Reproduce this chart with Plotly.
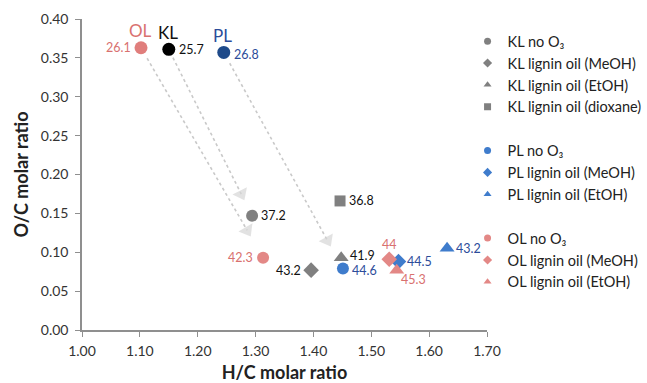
import plotly.graph_objects as go

# H/C and O/C molar ratios for each lignin sample
FONT = "Lato"

# Starting lignins (before ozonolysis)
start_names = ["OL", "KL", "PL"]
start_hc = [1.102, 1.150, 1.245]
start_oc = [0.363, 0.361, 0.357]
start_vals = ["26.1", "25.7", "26.8"]
start_colors = ["#e07e7c", "#000000", "#1f4a8a"]
start_text_colors = ["#d9716f", "#111111", "#2c4c9a"]
start_label_side = ["left", "right", "right"]

# Series after treatment
series_names = [
    "KL no O₃", "KL lignin oil (MeOH)", "KL lignin oil (EtOH)", "KL lignin oil (dioxane)",
    "PL no O₃", "PL lignin oil (MeOH)", "PL lignin oil (EtOH)",
    "OL no O₃", "OL lignin oil (MeOH)", "OL lignin oil (EtOH)",
]
series_group = ["KL", "KL", "KL", "KL", "PL", "PL", "PL", "OL", "OL", "OL"]
series_hc = [1.294, 1.396, 1.448, 1.446, 1.451, 1.547, 1.631, 1.313, 1.531, 1.544]
series_oc = [0.147, 0.077, 0.093, 0.166, 0.079, 0.088, 0.105, 0.093, 0.091, 0.077]
series_vals = ["37.2", "43.2", "41.9", "36.8", "44.6", "44.5", "43.2", "42.3", "44", "45.3"]
series_symbols = ["circle", "diamond", "triangle-up", "square",
                  "circle", "diamond", "triangle-up",
                  "circle", "diamond", "triangle-up"]
series_label_pos = ["right", "left", "right-up", "right",
                    "right-down", "right", "right",
                    "left", "above", "below"]

group_color = {"KL": "#808080", "PL": "#3f7ccc", "OL": "#e38886"}
group_text_color = {"KL": "#111111", "PL": "#2c4c9a", "OL": "#d9716f"}
symbol_size = {"circle": 12, "diamond": 12, "triangle-up": 13, "square": 11}

# Arrows from each starting lignin to its "no O3" product
arrow_pairs = [("OL", "OL no O₃"), ("KL", "KL no O₃"), ("PL", "PL no O₃")]
arrow_start_frac = 0.05
arrow_end_frac = 0.87

fig = go.Figure()

# Dashed arrows
for src, dst in arrow_pairs:
    i = start_names.index(src)
    j = series_names.index(dst)
    x0, y0 = start_hc[i], start_oc[i]
    x1, y1 = series_hc[j], series_oc[j]
    xs = [x0 + arrow_start_frac * (x1 - x0), x0 + arrow_end_frac * (x1 - x0)]
    ys = [y0 + arrow_start_frac * (y1 - y0), y0 + arrow_end_frac * (y1 - y0)]
    fig.add_trace(go.Scatter(
        x=xs, y=ys, mode="lines+markers", showlegend=False, hoverinfo="skip",
        line=dict(color="#c9c9c9", width=1.6, dash="dot"),
        marker=dict(symbol=["circle", "triangle-up"], size=[0, 14],
                    angleref="previous", color="#d6d6d6", line=dict(width=0)),
    ))

# Starting lignins
for i, name in enumerate(start_names):
    fig.add_trace(go.Scatter(
        x=[start_hc[i]], y=[start_oc[i]], mode="markers", showlegend=False,
        marker=dict(symbol="circle", size=13, color=start_colors[i]),
        name=name,
    ))
    fig.add_annotation(x=start_hc[i], y=start_oc[i], text=name, showarrow=False,
                       yshift=17, xshift=-1,
                       font=dict(family=FONT, size=17, color=start_text_colors[i]))
    side = start_label_side[i]
    fig.add_annotation(x=start_hc[i], y=start_oc[i], text=start_vals[i], showarrow=False,
                       xanchor="right" if side == "left" else "left",
                       xshift=-8 if side == "left" else 8, yshift=-2 if i == 2 else 0,
                       font=dict(family=FONT, size=12.5, color=start_text_colors[i]))

# Treated samples (plot marks) and legend entries
for k, name in enumerate(series_names):
    g = series_group[k]
    sym = series_symbols[k]
    fig.add_trace(go.Scatter(
        x=[series_hc[k]], y=[series_oc[k]], mode="markers", showlegend=False,
        marker=dict(symbol=sym, size=symbol_size[sym], color=group_color[g]),
        name=name,
    ))
    fig.add_trace(go.Scatter(
        x=[None], y=[None], mode="markers", name=name, legendgroup=g,
        marker=dict(symbol=sym, size=7, color=group_color[g]),
    ))
    pos = series_label_pos[k]
    tc = group_text_color[g]
    if pos == "right":
        kw = dict(xanchor="left", xshift=7)
    elif pos == "right-up":
        kw = dict(xanchor="left", xshift=7, yshift=2)
    elif pos == "right-down":
        kw = dict(xanchor="left", xshift=7, yshift=-2)
    elif pos == "left":
        kw = dict(xanchor="right", xshift=-8)
    elif pos == "above":
        kw = dict(xanchor="center", yanchor="bottom", xshift=0, yshift=5)
    else:
        kw = dict(xanchor="left", yanchor="top", xshift=2, yshift=0)
    fig.add_annotation(x=series_hc[k], y=series_oc[k], text=series_vals[k],
                       showarrow=False, font=dict(family=FONT, size=12.5, color=tc), **kw)

axis_common = dict(
    showline=True, linecolor="#8f8f8f", linewidth=1.5,
    ticks="outside", ticklen=5, tickcolor="#8f8f8f", tickwidth=1.2,
    showgrid=False, zeroline=False, tickformat=".2f", automargin=False,
    tickfont=dict(family=FONT, size=14, color="#333333"),
)

fig.update_layout(
    width=647, height=383,
    margin=dict(l=82, r=160, t=19, b=53, autoexpand=False),
    paper_bgcolor="white", plot_bgcolor="white",
    xaxis=dict(range=[1.0, 1.7], dtick=0.1, tick0=1.0, ticklabelstandoff=2,
               title=dict(text="<b>H/C molar ratio</b>", standoff=10,
                          font=dict(family=FONT, size=18, color="#222222")),
               **axis_common),
    yaxis=dict(range=[0, 0.4], dtick=0.05, tick0=0, ticklabelstandoff=4,
               title=dict(text="<b>O/C molar ratio</b>", standoff=7,
                          font=dict(family=FONT, size=18, color="#222222")),
               **axis_common),
    legend=dict(x=0.952, xanchor="left", y=0.98, yanchor="top",
                traceorder="grouped", tracegroupgap=22,
                font=dict(family=FONT, size=14.5, color="#222222"),
                bgcolor="rgba(0,0,0,0)"),
    showlegend=True,
)

fig.write_html("out.html")
